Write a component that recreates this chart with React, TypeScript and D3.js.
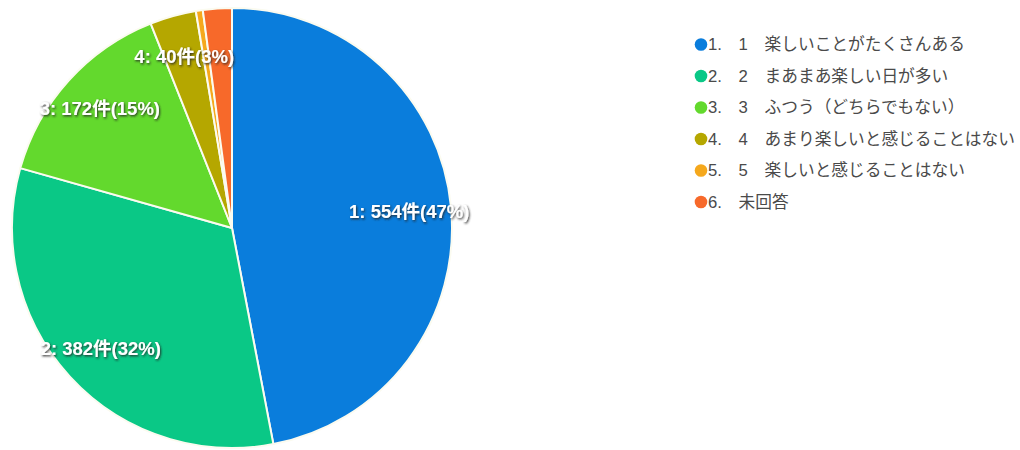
import React from "react";
import * as d3 from "d3";

const categories: string[] = [
  "1　楽しいことがたくさんある",
  "2　まあまあ楽しい日が多い",
  "3　ふつう（どちらでもない）",
  "4　あまり楽しいと感じることはない",
  "5　楽しいと感じることはない",
  "未回答",
];
const counts: number[] = [554, 382, 172, 40, 6, 25];
const colors: string[] = ["#0a7ddc", "#0ac886", "#63d92d", "#b5a700", "#f5a81c", "#f7692a"];

const W = 1020;
const H = 450;
const CX = 232;
const CY = 228;
const R = 220;
const LABEL_R = 178;

export default function App() {
  const total = d3.sum(counts);
  const pie = d3
    .pie<number>()
    .sort(null)
    .value((d) => d)
    .startAngle(0)
    .endAngle(2 * Math.PI);
  const arcs = pie(counts);
  const arcGen = d3.arc<d3.PieArcDatum<number>>().innerRadius(0).outerRadius(R);
  const labelArc = d3
    .arc<d3.PieArcDatum<number>>()
    .innerRadius(LABEL_R)
    .outerRadius(LABEL_R);

  const legendY = d3.scaleLinear().domain([0, 1]).range([44.5, 76]);

  return (
    <svg
      width={W}
      height={H}
      style={{ position: "absolute", left: 0, top: 0, background: "#fff" }}
      xmlns="http://www.w3.org/2000/svg"
    >
      <defs>
        <filter id="ts" x="-20%" y="-40%" width="140%" height="180%">
          <feDropShadow dx="1" dy="1.3" stdDeviation="1" floodColor="#222" floodOpacity="0.9" />
        </filter>
      </defs>
      <g transform={`translate(${CX},${CY})`}>
        {arcs.map((a, i) => (
          <path
            key={i}
            d={arcGen(a) || ""}
            fill={colors[i]}
            stroke="#fbfbf0"
            strokeWidth={2}
            strokeLinejoin="round"
          />
        ))}
        {arcs.map((a, i) => {
          const frac = a.value / total;
          if (frac < 0.03) return null;
          const [x, y] = labelArc.centroid(a);
          const label = `${i + 1}: ${a.value}件(${Math.round(frac * 100)}%)`;
          return (
            <text
              key={"l" + i}
              x={x}
              y={y}
              textAnchor="middle"
              dominantBaseline="central"
              fill="#ffffff"
              fontFamily="'Liberation Sans', Arial, 'Noto Sans CJK JP', sans-serif"
              fontWeight="bold"
              fontSize={18.5}
              filter="url(#ts)"
            >
              {label}
            </text>
          );
        })}
      </g>
      <g>
        {categories.map((c, i) => (
          <g key={"lg" + i} transform={`translate(701,${legendY(i)})`}>
            <circle cx={0} cy={0} r={6.3} fill={colors[i]} />
            <text
              x={7}
              y={0}
              dominantBaseline="central"
              fill="#4a4a4a"
              fontFamily="'Liberation Sans', Arial, 'Noto Sans CJK JP', sans-serif"
              fontSize={16.7}
              style={{ whiteSpace: "pre" }}
            >
              {`${i + 1}.\u3000${c}`}
            </text>
          </g>
        ))}
      </g>
    </svg>
  );
}
